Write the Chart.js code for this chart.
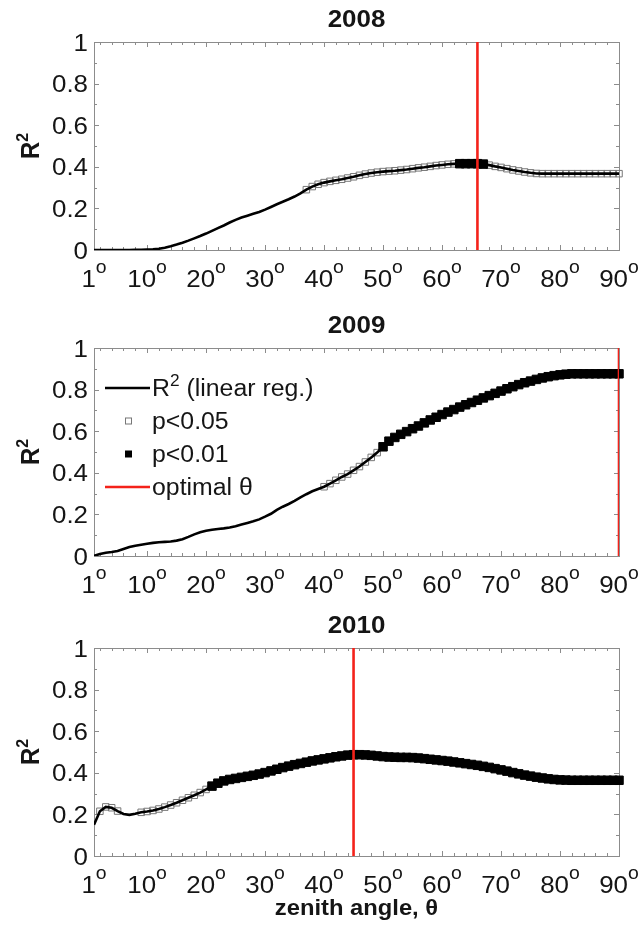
<!DOCTYPE html>
<html>
<head>
<meta charset="utf-8">
<script src="https://cdn.jsdelivr.net/npm/chart.js@4.4.0/dist/chart.umd.min.js"></script>
<style>
  body { margin: 0; background: #fff; }
  #wrap { position: relative; width: 642px; height: 930px; }
  canvas { position: absolute; left: 0; }
</style>
</head>
<body>
<div id="wrap">
  <canvas id="c2008" width="642" height="300" style="top:0px"></canvas>
  <canvas id="c2009" width="642" height="300" style="top:306px"></canvas>
  <canvas id="c2010" width="642" height="324" style="top:606px"></canvas>
</div>
<script>
// zenith angles (deg)
const angles = [1,2,3,4,5,6,7,8,9,10,11,12,13,14,15,16,17,18,19,20,21,22,23,24,25,26,27,28,29,30,
  31,32,33,34,35,36,37,38,39,40,41,42,43,44,45,46,47,48,49,50,51,52,53,54,55,56,57,58,59,60,
  61,62,63,64,65,66,67,68,69,70,71,72,73,74,75,76,77,78,79,80,81,82,83,84,85,86,87,88,89,90];

const years = ['2008', '2009', '2010'];
const optimalTheta = [66, 90, 45];

// R2 of the linear regression at every angle
const r2_2008 = [0,0,0,0,0,0,0,0.001,0.001,0.002,
  0.003,0.006,0.011,0.018,0.026,0.035,0.045,0.056,0.067,0.079,
  0.092,0.105,0.118,0.132,0.145,0.156,0.165,0.174,0.183,0.194,
  0.207,0.220,0.232,0.244,0.257,0.272,0.290,0.305,0.316,0.324,
  0.330,0.335,0.340,0.346,0.352,0.359,0.365,0.370,0.374,0.377,
  0.379,0.381,0.384,0.387,0.391,0.395,0.398,0.402,0.406,0.409,
  0.412,0.414,0.415,0.415,0.415,0.415,0.413,0.408,0.402,0.397,
  0.391,0.385,0.380,0.375,0.371,0.368,0.367,0.367,0.367,0.367,
  0.367,0.367,0.367,0.367,0.367,0.367,0.367,0.367,0.367,0.367];
const r2_2009 = [0.000,0.010,0.016,0.019,0.024,0.034,0.043,0.049,0.054,0.059,
  0.063,0.066,0.068,0.070,0.074,0.081,0.092,0.104,0.114,0.121,
  0.126,0.130,0.133,0.137,0.143,0.151,0.159,0.167,0.176,0.189,
  0.203,0.222,0.237,0.250,0.265,0.282,0.297,0.311,0.322,0.333,
  0.348,0.364,0.380,0.394,0.412,0.430,0.452,0.474,0.497,0.525,
  0.552,0.570,0.585,0.598,0.612,0.625,0.640,0.654,0.667,0.680,
  0.692,0.704,0.716,0.727,0.738,0.749,0.760,0.771,0.782,0.793,
  0.804,0.814,0.824,0.833,0.841,0.849,0.856,0.862,0.867,0.871,
  0.874,0.876,0.876,0.876,0.876,0.876,0.876,0.876,0.876,0.876];
const r2_2010 = [0.150,0.215,0.236,0.232,0.216,0.202,0.198,0.203,0.210,0.214,
  0.219,0.226,0.235,0.245,0.256,0.268,0.280,0.292,0.305,0.320,
  0.336,0.350,0.361,0.368,0.373,0.378,0.383,0.388,0.394,0.401,
  0.409,0.417,0.425,0.432,0.439,0.445,0.451,0.457,0.462,0.467,
  0.472,0.477,0.481,0.485,0.487,0.487,0.486,0.484,0.481,0.478,
  0.476,0.475,0.474,0.474,0.473,0.471,0.468,0.465,0.462,0.459,
  0.456,0.452,0.448,0.444,0.440,0.436,0.431,0.426,0.420,0.414,
  0.408,0.401,0.395,0.389,0.384,0.379,0.375,0.371,0.368,0.366,
  0.365,0.364,0.364,0.364,0.364,0.364,0.364,0.364,0.364,0.364];

// angle ranges where the regression is significant
const p05_2008 = [[37, 62], [68, 90]];
const p01_2008 = [[63, 67]];
const p05_2009 = [[40, 49]];
const p01_2009 = [[50, 90]];
const p05_2010 = [[2, 5], [9, 20]];
const p01_2010 = [[21, 90]];

const xTickValues = [1, 10, 20, 30, 40, 50, 60, 70, 80, 90];
const yTickValues = [0, 0.2, 0.4, 0.6, 0.8, 1];
const yTickLabels = ['0', '0.2', '0.4', '0.6', '0.8', '1'];

const AXIS = '#8c8c8c';
const INK = '#151515';
const RED = '#f4221a';
const FONT = '"Liberation Sans", Arial, sans-serif';
const SX = 1.08;   // lettering is a bit wide

function txt(ctx, s, x, y, font, align) {
  ctx.save();
  ctx.translate(x, y);
  ctx.scale(SX, 1);
  ctx.font = font;
  ctx.fillStyle = INK;
  ctx.textAlign = align || 'left';
  ctx.textBaseline = 'alphabetic';
  ctx.fillText(s, 0, 0);
  ctx.restore();
}
function wid(ctx, s, font) {
  ctx.font = font;
  return ctx.measureText(s).width * SX;
}
// text + raised superscript, x is left edge or centre
function supText(ctx, base, sup, x, y, f1, f2, rise, centred) {
  const w1 = wid(ctx, base, f1), w2 = wid(ctx, sup, f2);
  const x0 = centred ? x - (w1 + w2) / 2 : x;
  txt(ctx, base, x0, y, f1);
  txt(ctx, sup, x0 + w1, y - rise, f2);
  return x0 + w1 + w2;
}

function pick(r2, ranges) {
  const pts = [];
  ranges.forEach(([a, b]) => {
    angles.forEach((ang, i) => { if (ang >= a && ang <= b) pts.push({ x: ang, y: r2[i] }); });
  });
  return pts;
}

const deco = {
  id: 'deco',
  beforeDatasetsDraw(chart) {
    const { ctx, chartArea: a, scales: { x, y } } = chart;
    ctx.save();
    ctx.strokeStyle = AXIS;
    ctx.lineWidth = 1;
    ctx.beginPath();
    // x ticks, inward on bottom and top
    for (let d = 2; d <= 88; d += 2) {
      const px = Math.round(x.getPixelForValue(d)) + 0.5;
      ctx.moveTo(px, a.bottom); ctx.lineTo(px, a.bottom - 3);
      ctx.moveTo(px, a.top); ctx.lineTo(px, a.top + 3);
    }
    xTickValues.forEach(d => {
      const px = Math.round(x.getPixelForValue(d)) + 0.5;
      ctx.moveTo(px, a.bottom); ctx.lineTo(px, a.bottom - 5);
      ctx.moveTo(px, a.top); ctx.lineTo(px, a.top + 5);
    });
    // y ticks every 0.1, longer at labelled ones
    for (let k = 1; k < 10; k++) {
      const py = Math.round(y.getPixelForValue(k / 10)) + 0.5;
      const len = k % 2 ? 3 : 5;
      ctx.moveTo(a.left, py); ctx.lineTo(a.left + len, py);
      ctx.moveTo(a.right, py); ctx.lineTo(a.right - len, py);
    }
    ctx.stroke();
    ctx.strokeRect(Math.round(a.left) + 0.5, Math.round(a.top) + 0.5,
      Math.round(a.right - a.left), Math.round(a.bottom - a.top));
    ctx.restore();
  },
  afterDraw(chart, args, opts) {
    const { ctx, chartArea: a, scales: { x, y } } = chart;
    const fTick = '24px ' + FONT;
    const fLeg = '23px ' + FONT;
    const cx = (a.left + a.right) / 2;

    txt(ctx, opts.title, cx, a.top - 15, 'bold 24px ' + FONT, 'center');

    yTickValues.forEach((v, i) => {
      txt(ctx, yTickLabels[i], a.left - 6, y.getPixelForValue(v) + 8.5, fTick, 'right');
    });
    xTickValues.forEach(d => {
      supText(ctx, String(d), 'o', x.getPixelForValue(d), a.bottom + 37, fTick, '18px ' + FONT, 14, true);
    });

    // R2 axis label, rotated
    ctx.save();
    ctx.translate(39, (a.top + a.bottom) / 2);
    ctx.scale(SX, 1);
    ctx.rotate(-Math.PI / 2);
    ctx.fillStyle = INK;
    ctx.textBaseline = 'alphabetic';
    const fR = 'bold 24px ' + FONT, f2 = 'bold 16px ' + FONT;
    ctx.font = fR; const wR = ctx.measureText('R').width;
    ctx.font = f2; const w2 = ctx.measureText('2').width;
    ctx.font = fR; ctx.fillText('R', -(wR + w2) / 2, 0);
    ctx.font = f2; ctx.fillText('2', -(wR + w2) / 2 + wR, -10);
    ctx.restore();

    if (opts.xlabel) {
      txt(ctx, opts.xlabel, cx, a.bottom + 59, 'bold 22px ' + FONT, 'center');
    }

    if (opts.legend) {
      const ds = chart.data.datasets;
      const lx = a.left + 11, tx = a.left + 58;
      const rows = [a.top + 40, a.top + 73, a.top + 106, a.top + 139];
      ctx.save();
      // regression line
      ctx.strokeStyle = ds[1].borderColor; ctx.lineWidth = ds[1].borderWidth;
      ctx.beginPath(); ctx.moveTo(lx, rows[0]); ctx.lineTo(lx + 45, rows[0]); ctx.stroke();
      const end = supText(ctx, 'R', '2', tx, rows[0] + 8, fLeg, '16px ' + FONT, 10, false);
      txt(ctx, ' (linear reg.)', end, rows[0] + 8, fLeg);
      // open square
      ctx.strokeStyle = ds[3].borderColor; ctx.lineWidth = 1;
      ctx.strokeRect(lx + 20.5, rows[1] - 3, 6, 6);
      txt(ctx, ds[3].label, tx, rows[1] + 8, fLeg);
      // filled square
      ctx.fillStyle = ds[2].backgroundColor;
      ctx.fillRect(lx + 20, rows[2] - 3.5, 7, 7);
      txt(ctx, ds[2].label, tx, rows[2] + 8, fLeg);
      // optimal angle
      ctx.strokeStyle = ds[0].borderColor; ctx.lineWidth = ds[0].borderWidth;
      ctx.beginPath(); ctx.moveTo(lx, rows[3]); ctx.lineTo(lx + 45, rows[3]); ctx.stroke();
      txt(ctx, ds[0].label, tx, rows[3] + 8, fLeg);
      ctx.restore();
    }
  }
};

function makeChart(id, year, r2, p05, p01, opt, extra) {
  const canvas = document.getElementById(id);
  const H = canvas.height;
  return new Chart(canvas, {
    type: 'line',
    data: {
      datasets: [
        { label: 'optimal θ', data: [{ x: opt, y: 0 }, { x: opt, y: 1 }],
          borderColor: RED, borderWidth: 2.6, pointRadius: 0 },
        { label: 'R² (linear reg.)', data: r2.map((v, i) => ({ x: angles[i], y: v })),
          borderColor: '#000', borderWidth: 2.6, pointRadius: 0 },
        { label: 'p<0.01', data: pick(r2, p01), showLine: false, clip: false,
          pointStyle: 'rect', pointRadius: 6, backgroundColor: '#000', borderColor: '#000', borderWidth: 1 },
        { label: 'p<0.05', data: pick(r2, p05), showLine: false, clip: false,
          pointStyle: 'rect', pointRadius: 4.6, backgroundColor: 'rgba(0,0,0,0)', borderColor: '#777', borderWidth: 1 }
      ]
    },
    options: {
      responsive: false,
      animation: false,
      events: [],
      layout: { padding: { top: 42, right: 23, left: 0, bottom: 0 } },
      plugins: {
        legend: { display: false },
        tooltip: { enabled: false },
        deco: Object.assign({ title: year }, extra)
      },
      scales: {
        x: { type: 'linear', min: 1, max: 90,
          grid: { display: false }, border: { display: false }, ticks: { display: false },
          afterFit: s => { s.height = H - 250; } },
        y: { min: 0, max: 1,
          grid: { display: false }, border: { display: false }, ticks: { display: false },
          afterFit: s => { s.width = 94; } }
      }
    },
    plugins: [deco]
  });
}

makeChart('c2008', years[0], r2_2008, p05_2008, p01_2008, optimalTheta[0], {});
makeChart('c2009', years[1], r2_2009, p05_2009, p01_2009, optimalTheta[1], { legend: true });
makeChart('c2010', years[2], r2_2010, p05_2010, p01_2010, optimalTheta[2], { xlabel: 'zenith angle, θ' });
</script>
</body>
</html>
